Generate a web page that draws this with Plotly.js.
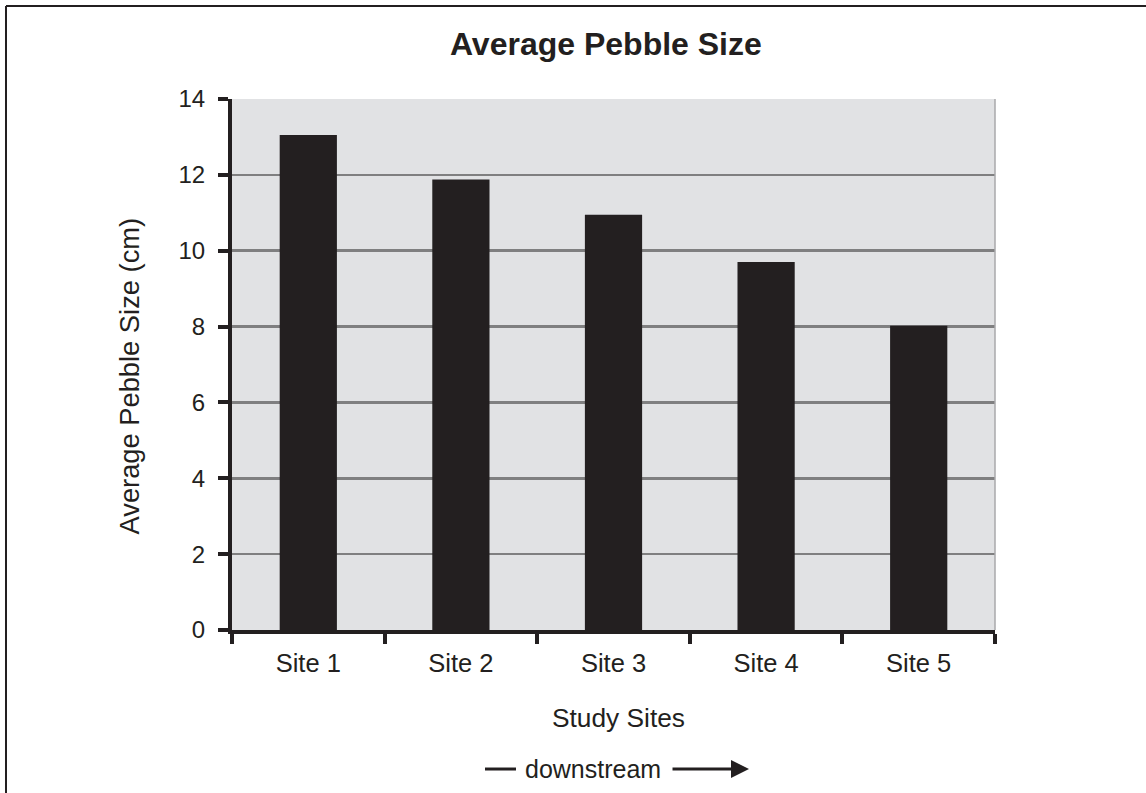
<!DOCTYPE html>
<html>
<head>
<meta charset="utf-8">
<script src="https://cdn.plot.ly/plotly-3.0.1.min.js"></script>
<style>html,body{margin:0;padding:0;background:#fff;}#chart{width:1146px;height:793px;}</style>
</head>
<body>
<div id="chart"></div>
<script>
const sites = ["Site 1", "Site 2", "Site 3", "Site 4", "Site 5"];
const pebbleSize = [13.05, 11.88, 10.95, 9.7, 8.02];
const yTicks = [0, 2, 4, 6, 8, 10, 12, 14];

const ink = "#231f20";
const font = "Liberation Sans, Arial, sans-serif";

const trace = {
  type: "bar",
  x: sites,
  y: pebbleSize,
  marker: {color: ink, line: {width: 0}},
  hoverinfo: "x+y"
};

const layout = {
  width: 1146,
  height: 793,
  margin: {l: 232, r: 151, t: 99, b: 163},
  paper_bgcolor: "#ffffff",
  plot_bgcolor: "#e1e2e4",
  bargap: 0.625,
  showlegend: false,
  font: {family: font, color: ink, size: 24},
  title: {
    text: "<b>Average Pebble Size</b>",
    font: {family: font, size: 32, color: ink},
    xref: "paper", x: 0.49, xanchor: "center",
    yref: "container", y: 0.945, yanchor: "middle"
  },
  xaxis: {
    type: "category",
    showline: true, linecolor: ink, linewidth: 4,
    ticks: "outside", tickson: "boundaries", ticklen: 10, tickwidth: 4, tickcolor: ink,
    ticklabelstandoff: 7,
    tickfont: {family: font, size: 25.5, color: ink},
    showgrid: false, zeroline: false,
    fixedrange: true
  },
  yaxis: {
    range: [0, 14],
    tickvals: yTicks,
    ticktext: yTicks.map(String),
    showline: true, linecolor: ink, linewidth: 4,
    ticks: "outside", ticklen: 10, tickwidth: 4, tickcolor: ink,
    ticklabelstandoff: 8,
    tickfont: {family: font, size: 24, color: ink},
    showgrid: true, gridcolor: "#7f7f80", gridwidth: 2.5,
    zeroline: false,
    fixedrange: true
  },
  shapes: [
    {type: "line", xref: "paper", yref: "paper", x0: 1, x1: 1, y0: 0, y1: 1,
     line: {color: "#a9a9ab", width: 1.5}},
    {type: "line", xref: "paper", yref: "paper", x0: -0.2962, x1: -0.2962, y0: 1.1751, y1: -0.6,
     line: {color: ink, width: 2}},
    {type: "line", xref: "paper", yref: "paper", x0: -0.2962, x1: 1.3, y0: 1.1751, y1: 1.1751,
     line: {color: ink, width: 2}},
    {type: "line", xref: "paper", yref: "paper", x0: 0.3316, x1: 0.3722, y0: -0.2618, y1: -0.2618,
     line: {color: ink, width: 3}}
  ],
  annotations: [
    {text: "Average Pebble Size (cm)", xref: "paper", yref: "paper", x: -0.1337, y: 0.4793,
     textangle: -90, showarrow: false, xanchor: "center", yanchor: "middle",
     font: {family: font, size: 27.3, color: ink}},
    {text: "Study Sites", xref: "paper", yref: "paper", x: 0.5072, y: -0.1657,
     showarrow: false, xanchor: "center", yanchor: "middle",
     font: {family: font, size: 26.3, color: ink}},
    {text: "downstream", xref: "paper", yref: "paper", x: 0.4725, y: -0.2618,
     showarrow: false, xanchor: "center", yanchor: "middle",
     font: {family: font, size: 25, color: ink}},
    {text: "", xref: "paper", yref: "paper", x: 0.6776, y: -0.2618,
     showarrow: true, axref: "pixel", ayref: "pixel", ax: -78, ay: 0,
     arrowhead: 2, arrowsize: 1.2, arrowwidth: 3, arrowcolor: ink, standoff: 0, startstandoff: 0}
  ]
};

Plotly.newPlot("chart", [trace], layout, {displayModeBar: false, staticPlot: true});
</script>
</body>
</html>
